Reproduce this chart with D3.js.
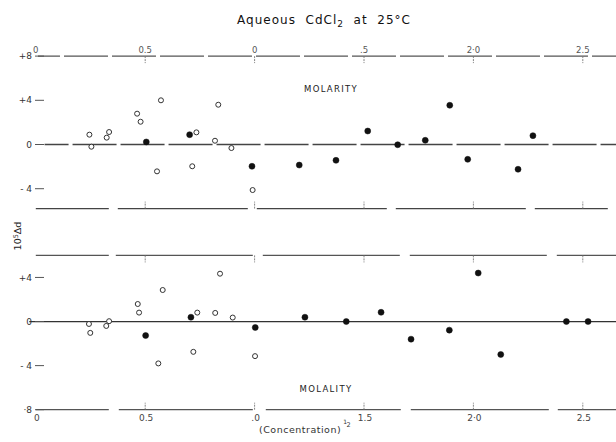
<!DOCTYPE html>
<html>
<head>
<meta charset="utf-8">
<script src="https://cdn.jsdelivr.net/npm/d3@7"></script>
<style>
  html, body { margin: 0; padding: 0; background: #fff; }
  svg { display: block; font-family: "DejaVu Sans", "Liberation Sans", sans-serif; }
</style>
</head>
<body>
<div id="chart"></div>
<script>
// Values: (concentration)^1/2 vs 10^5 Δd
const molarityOpenX   = [0.245, 0.254, 0.324, 0.335, 0.463, 0.479, 0.554, 0.572, 0.715, 0.734, 0.819, 0.834, 0.894, 0.991];
const molarityOpenY   = [0.89, -0.20, 0.62, 1.13, 2.79, 2.06, -2.43, 4.00, -1.97, 1.10, 0.34, 3.60, -0.32, -4.12];
const molarityFilledX = [0.505, 0.703, 0.988, 1.204, 1.372, 1.517, 1.654, 1.780, 1.892, 1.974, 2.204, 2.272];
const molarityFilledY = [0.23, 0.89, -1.97, -1.86, -1.43, 1.22, -0.02, 0.38, 3.55, -1.34, -2.24, 0.80];

const molalityOpenX   = [0.243, 0.249, 0.322, 0.335, 0.466, 0.472, 0.560, 0.580, 0.720, 0.738, 0.820, 0.842, 0.900, 1.002];
const molalityOpenY   = [-0.22, -1.03, -0.40, 0.03, 1.59, 0.81, -3.80, 2.86, -2.75, 0.81, 0.78, 4.34, 0.36, -3.14];
const molalityFilledX = [0.502, 0.709, 1.003, 1.230, 1.419, 1.578, 1.715, 1.890, 2.022, 2.125, 2.425, 2.524];
const molalityFilledY = [-1.27, 0.39, -0.54, 0.39, 0.00, 0.84, -1.60, -0.78, 4.40, -2.99, 0.00, 0.00];

const xTickValues = [0, 0.5, 1.0, 1.5, 2.0, 2.5];
const topTickLabels = ["0", "0.5", "0", ".5", "2·0", "2.5"];
const bottomTickLabels = ["0", "0.5", ".0", "1.5", "2·0", "2.5"];

const molarityYTicks = [8, 4, 0, -4];
const molarityYLabels = ["+8", "+4", "0", "- 4"];
const molalityYTicks = [4, 0, -4, -8];
const molalityYLabels = ["+4", "0", "- 4", "·8"];

const width = 616, height = 442;

const svg = d3.select("#chart").append("svg")
    .attr("width", width)
    .attr("height", height);

// Shared x scale, two stacked panels with their own y scales
const x = d3.scaleLinear().domain([0, 2.5]).range([35.8, 582.8]);
const yTop = d3.scaleLinear().domain([-5.8, 8]).range([208.6, 56.1]);
const yBot = d3.scaleLinear().domain([-8, 6]).range([409.7, 255.4]);

const ink = "#333";

// horizontal rules (the scan shows them broken into segments)
function rule(y, x0, dash, offset, color) {
    svg.append("line")
        .attr("x1", x(x0)).attr("x2", x(2.66))
        .attr("y1", y).attr("y2", y)
        .attr("stroke", color || "#444")
        .attr("stroke-width", 1.3)
        .attr("stroke-dasharray", dash)
        .attr("stroke-dashoffset", offset || 0);
}

rule(yTop(8), 0.01, "44,4", 22, "#555");
rule(yTop(0), 0.04, "44,4", 20, "#444");
rule(yTop(-5.8), 0, "73,9,130,9,130,9,130,9", 0, "#444");
rule(yBot(6), 0, "73,7,137,10,137,10,137,10", 0, "#555");
rule(yBot(0), -0.03, null, 0, "#333");
rule(yBot(-8), 0, "73,10,134,13,135,10,138,9", 0, "#555");

// small inward ticks on the frame rules
function frameTicks(y, dir) {
    svg.append("g").selectAll("line")
        .data(xTickValues.slice(1))
        .enter().append("line")
        .attr("x1", d => x(d)).attr("x2", d => x(d))
        .attr("y1", y).attr("y2", y + dir * 7)
        .attr("stroke", "#777")
        .attr("stroke-width", 0.9)
        .attr("stroke-dasharray", "2,1");
}
frameTicks(yTop(8), 1);
frameTicks(yTop(-5.8), -1);
frameTicks(yBot(6), 1);
frameTicks(yBot(-8), -1);

// x tick labels, top and bottom
svg.append("g").selectAll("text")
    .data(xTickValues)
    .enter().append("text")
    .attr("x", d => x(d))
    .attr("y", 53)
    .attr("text-anchor", "middle")
    .attr("font-size", 8.5)
    .attr("fill", "#555")
    .text((d, i) => topTickLabels[i]);

svg.append("g").selectAll("text")
    .data(xTickValues)
    .enter().append("text")
    .attr("x", d => x(d) + 1)
    .attr("y", 421)
    .attr("text-anchor", "middle")
    .attr("font-size", 9)
    .attr("fill", "#444")
    .text((d, i) => bottomTickLabels[i]);

// y ticks and labels for each panel
function yAxisLabels(scale, ticks, labels) {
    const g = svg.append("g");
    g.selectAll("text")
        .data(ticks)
        .enter().append("text")
        .attr("x", 32)
        .attr("y", d => scale(d))
        .attr("dy", "0.35em")
        .attr("text-anchor", "end")
        .attr("font-size", 9)
        .attr("fill", "#333")
        .text((d, i) => labels[i]);
    g.selectAll("line")
        .data(ticks)
        .enter().append("line")
        .attr("x1", 35).attr("x2", 44)
        .attr("y1", d => scale(d)).attr("y2", d => scale(d))
        .attr("stroke", "#555")
        .attr("stroke-width", 1);
}
yAxisLabels(yTop, molarityYTicks, molarityYLabels);
yAxisLabels(yBot, molalityYTicks, molalityYLabels);

// data points
function points(scale, xs, ys, filled) {
    svg.append("g").selectAll("circle")
        .data(xs.map((c, i) => ({ c: c, v: ys[i] })))
        .enter().append("circle")
        .attr("cx", d => x(d.c))
        .attr("cy", d => scale(d.v))
        .attr("r", filled ? 3 : 2.5)
        .attr("fill", filled ? "#111" : "#fff")
        .attr("stroke", filled ? "#111" : ink)
        .attr("stroke-width", filled ? 0.5 : 1);
}
points(yTop, molarityOpenX, molarityOpenY, false);
points(yTop, molarityFilledX, molarityFilledY, true);
points(yBot, molalityOpenX, molalityOpenY, false);
points(yBot, molalityFilledX, molalityFilledY, true);

// title
const title = svg.append("text")
    .attr("x", 324)
    .attr("y", 24)
    .attr("text-anchor", "middle")
    .attr("font-size", 12)
    .attr("letter-spacing", 1)
    .attr("fill", "#111")
    .attr("xml:space", "preserve");
title.append("tspan").text("Aqueous  CdCl");
title.append("tspan").attr("dy", 3).attr("font-size", 9).text("2");
title.append("tspan").attr("dy", -3).text("  at  25°C");

// panel labels
svg.append("text")
    .attr("x", 331).attr("y", 92)
    .attr("text-anchor", "middle")
    .attr("font-size", 8.5)
    .attr("letter-spacing", 1.3)
    .attr("fill", "#222")
    .text("MOLARITY");

svg.append("text")
    .attr("x", 326).attr("y", 392)
    .attr("text-anchor", "middle")
    .attr("font-size", 8.5)
    .attr("letter-spacing", 1.3)
    .attr("fill", "#222")
    .text("MOLALITY");

// y axis title, rotated
const ytitle = svg.append("text")
    .attr("transform", "translate(21,236) rotate(-90)")
    .attr("text-anchor", "middle")
    .attr("font-size", 9.5)
    .attr("fill", "#222");
ytitle.append("tspan").text("10");
ytitle.append("tspan").attr("dy", -3).attr("font-size", 6.5).text("5");
ytitle.append("tspan").attr("dy", 3).text("Δd");

// x axis title, exponent set as a small stacked 1 over 2
const xtitle = svg.append("text")
    .attr("x", 259).attr("y", 433)
    .attr("font-size", 9.5)
    .attr("letter-spacing", 0.5)
    .attr("fill", "#333");
xtitle.append("tspan").text("(Concentration)");
xtitle.append("tspan").attr("dx", 2).attr("dy", -9).attr("font-size", 6).text("1");
xtitle.append("tspan").attr("dx", -1).attr("dy", 3).attr("font-size", 6.5).text("2");
</script>
</body>
</html>
